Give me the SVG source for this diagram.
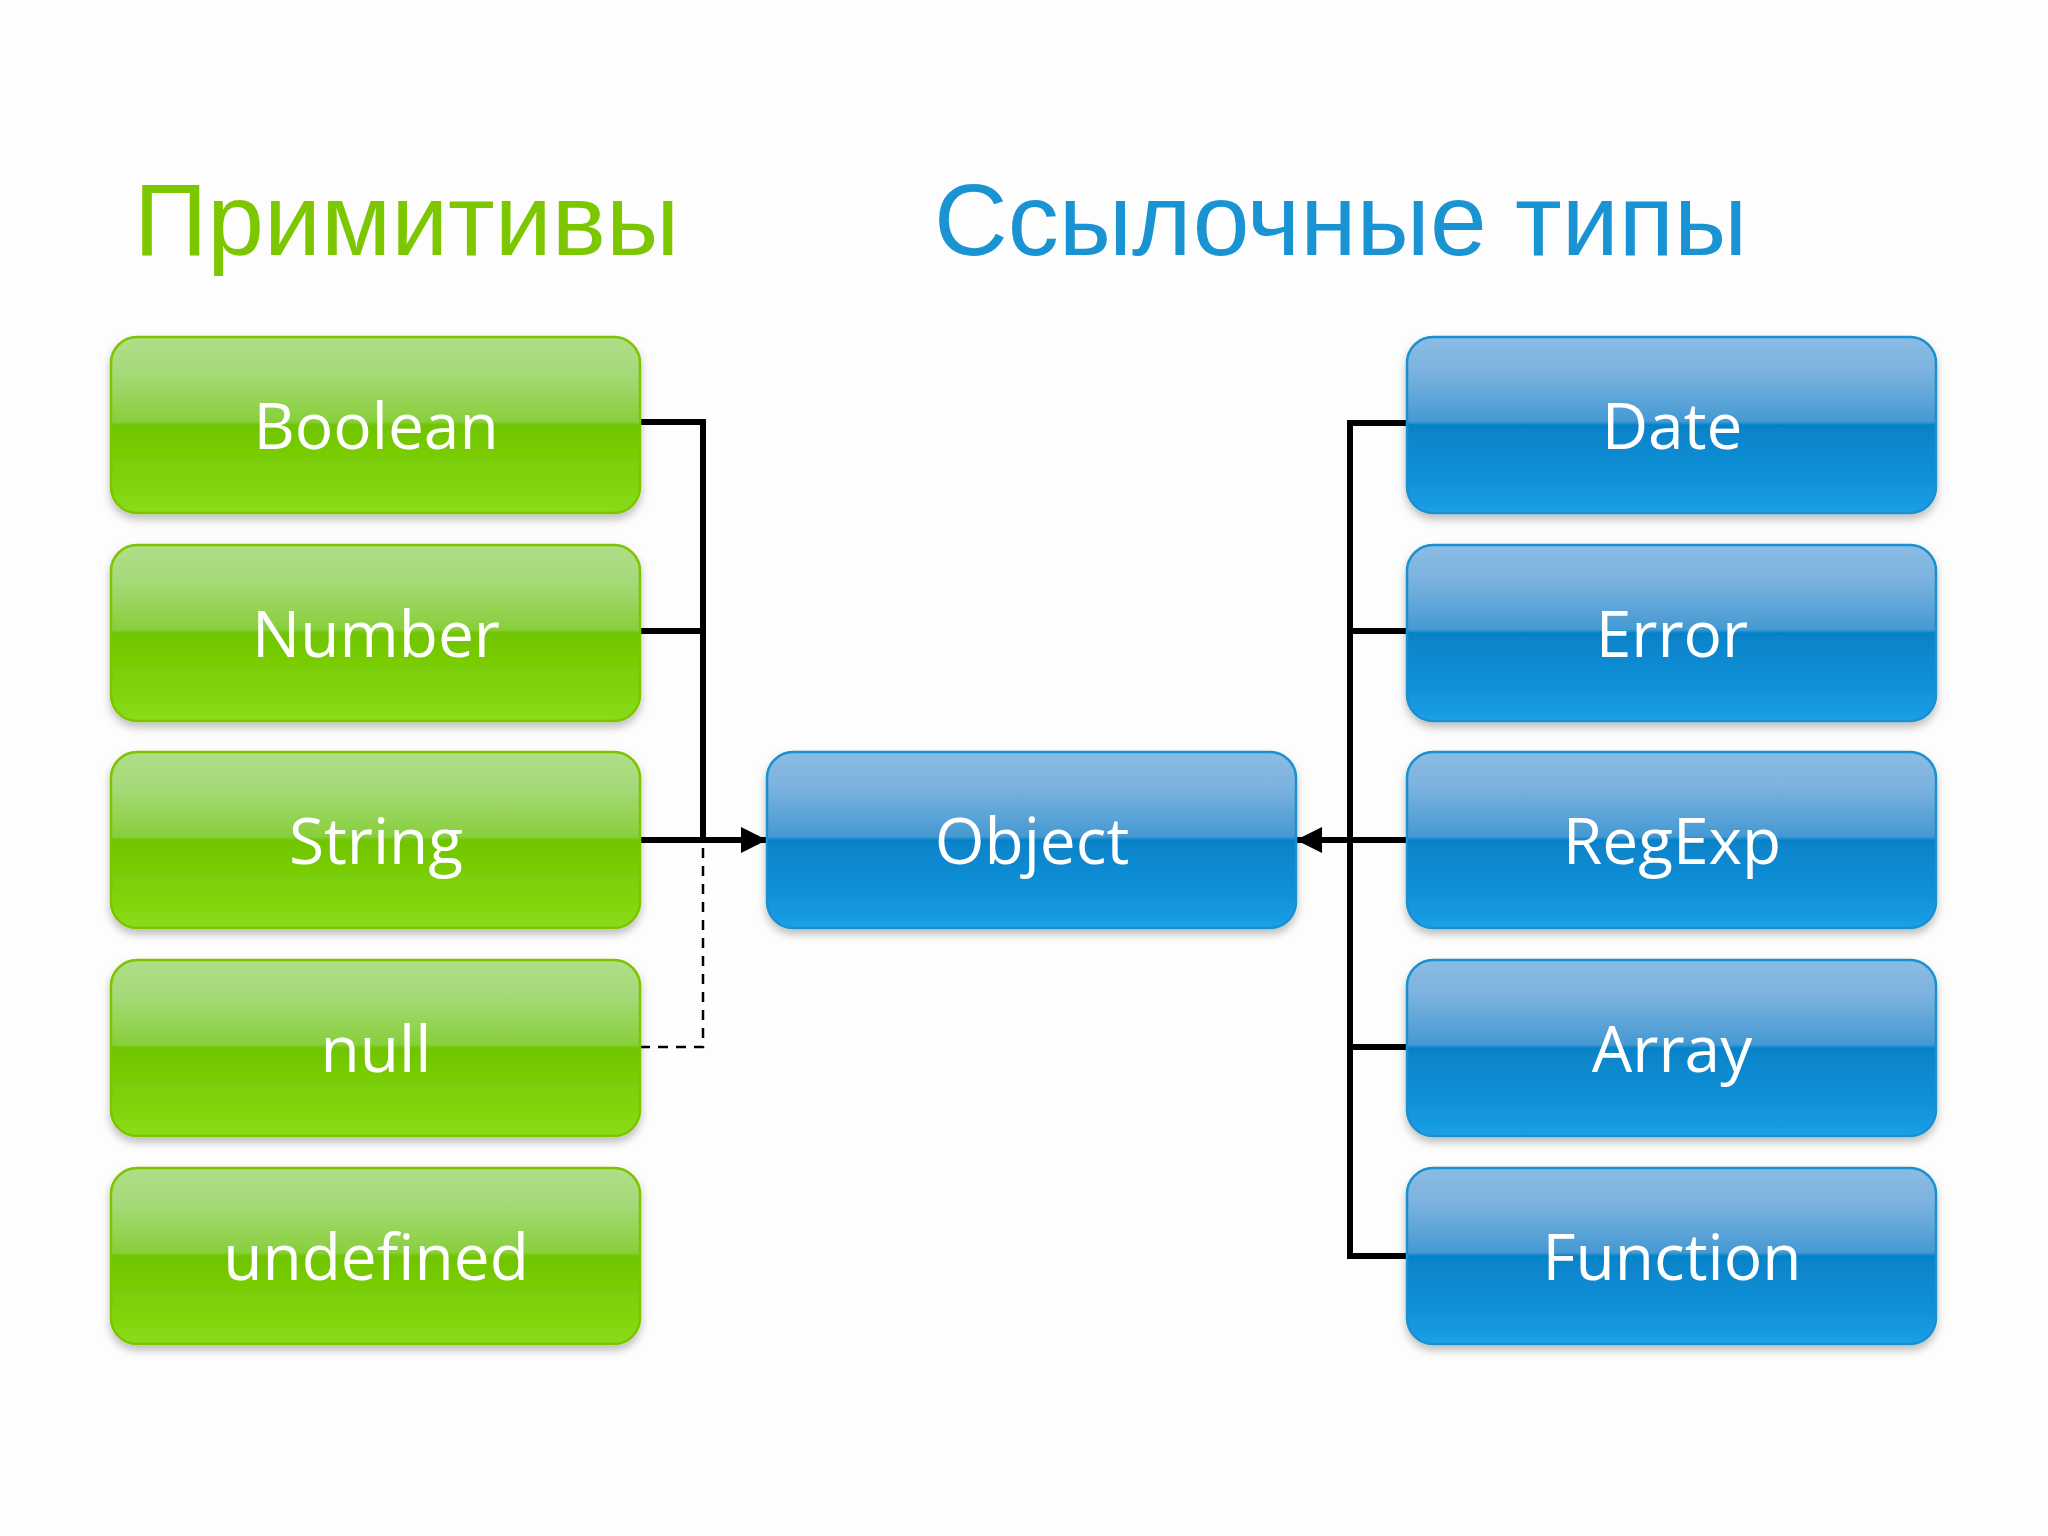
<svg xmlns="http://www.w3.org/2000/svg" width="2048" height="1536" viewBox="0 0 2048 1536">
<defs>
<linearGradient id="gg" x1="0" y1="0" x2="0" y2="1">
<stop offset="0" stop-color="#b0de8a"/>
<stop offset="0.2" stop-color="#a6da78"/>
<stop offset="0.48" stop-color="#88cf3c"/>
<stop offset="0.5" stop-color="#70c400"/>
<stop offset="0.8" stop-color="#7fd30a"/>
<stop offset="1" stop-color="#8adc18"/>
</linearGradient>
<linearGradient id="bg" x1="0" y1="0" x2="0" y2="1">
<stop offset="0" stop-color="#8abce5"/>
<stop offset="0.2" stop-color="#7bb2df"/>
<stop offset="0.48" stop-color="#4599d3"/>
<stop offset="0.5" stop-color="#0682c8"/>
<stop offset="0.8" stop-color="#0f91d8"/>
<stop offset="1" stop-color="#1ca0e4"/>
</linearGradient>
<filter id="sh" x="-5%" y="-10%" width="110%" height="125%">
<feDropShadow dx="0" dy="5" stdDeviation="4" flood-color="#000" flood-opacity="0.25"/>
</filter>
<marker id="ah" viewBox="0 0 10 10" refX="10" refY="5" markerWidth="27" markerHeight="26" markerUnits="userSpaceOnUse" orient="auto">
<path d="M0,0 L10,5 L0,10 Z" fill="#000"/>
</marker>
</defs>
<style>
.g{fill:url(#gg);stroke:#7cc400;stroke-width:2.5;filter:url(#sh)}
.b{fill:url(#bg);stroke:#1b8fd0;stroke-width:2.5;filter:url(#sh)}
.t{font-family:"Open Sans","Noto Sans",sans-serif;font-size:64px;fill:#fff;text-anchor:middle}
.h{font-family:"Liberation Sans",Arial,sans-serif;font-size:102px}
.c{fill:none;stroke:#000;stroke-width:6}
.d{fill:none;stroke:#000;stroke-width:2.5;stroke-dasharray:10 8}
</style>
<rect width="2048" height="1536" fill="#fdfdfd"/>
<text class="h" x="134" y="255" fill="#7dc700">Примитивы</text>
<text class="h" x="934" y="255" fill="#1a93d3">Ссылочные типы</text>

<g id="connectors">
<path class="c" d="M640,422 H703 V840"/>
<path class="c" d="M640,631 H703"/>
<path class="c" d="M640,840 H767" marker-end="url(#ah)"/>
<path class="d" d="M640,1047 H703 V843"/>
<path class="c" d="M1407,423 H1350 V1256 H1407"/>
<path class="c" d="M1350,631 H1407"/>
<path class="c" d="M1350,1047 H1407"/>
<path class="c" d="M1407,840 H1296" marker-end="url(#ah)"/>
</g>

<g id="node-boolean"><rect class="g" x="111" y="337" width="529" height="176" rx="26"/><text class="t" x="376" y="449">Boolean</text></g>
<g id="node-number"><rect class="g" x="111" y="545" width="529" height="176" rx="26"/><text class="t" x="376" y="657">Number</text></g>
<g id="node-string"><rect class="g" x="111" y="752" width="529" height="176" rx="26"/><text class="t" x="376" y="864">String</text></g>
<g id="node-null"><rect class="g" x="111" y="960" width="529" height="176" rx="26"/><text class="t" x="376" y="1072">null</text></g>
<g id="node-undefined"><rect class="g" x="111" y="1168" width="529" height="176" rx="26"/><text class="t" x="376" y="1280">undefined</text></g>

<g id="node-object"><rect class="b" x="767" y="752" width="529" height="176" rx="26"/><text class="t" x="1032" y="864">Object</text></g>

<g id="node-date"><rect class="b" x="1407" y="337" width="529" height="176" rx="26"/><text class="t" x="1672" y="449">Date</text></g>
<g id="node-error"><rect class="b" x="1407" y="545" width="529" height="176" rx="26"/><text class="t" x="1672" y="657">Error</text></g>
<g id="node-regexp"><rect class="b" x="1407" y="752" width="529" height="176" rx="26"/><text class="t" x="1672" y="864">RegExp</text></g>
<g id="node-array"><rect class="b" x="1407" y="960" width="529" height="176" rx="26"/><text class="t" x="1672" y="1072">Array</text></g>
<g id="node-function"><rect class="b" x="1407" y="1168" width="529" height="176" rx="26"/><text class="t" x="1672" y="1280">Function</text></g>
</svg>
